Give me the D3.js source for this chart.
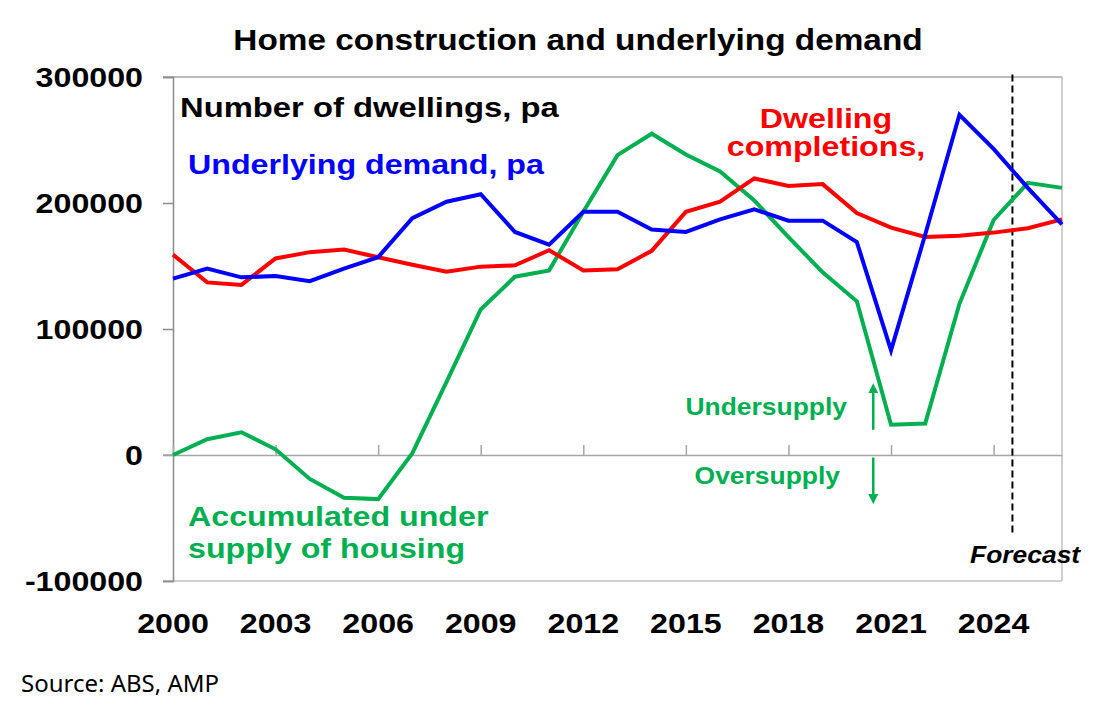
<!DOCTYPE html>
<html>
<head>
<meta charset="utf-8">
<script src="https://cdn.jsdelivr.net/npm/d3@7"></script>
<style>
  body { margin: 0; background: #fff; }
  svg { display: block; }
</style>
</head>
<body>
<div id="chart"></div>
<script>
// chart data
var years = [2000, 2001, 2002, 2003, 2004, 2005, 2006, 2007, 2008, 2009, 2010, 2011, 2012, 2013,
             2014, 2015, 2016, 2017, 2018, 2019, 2020, 2021, 2022, 2023, 2024, 2025, 2026];
var demand = [140000, 148000, 141000, 142000, 138000, 148000, 157000, 188000, 201000, 207000, 177000, 167000, 193000, 193000,
              179000, 177000, 187000, 195000, 186000, 186000, 169000, 83000, 175000, 270000, 243000, 212000, 183000];
var completions = [159000, 137000, 135000, 156000, 161000, 163000, 157000, 151000, 145500, 149500, 150500, 162500, 146500, 147500,
                   162000, 193000, 201000, 219500, 213500, 215000, 192000, 180500, 173000, 174000, 176500, 180000, 187000];
var accumulated = [0, 12500, 18000, 4500, -19000, -34000, -35000, 1500, 58000, 115500, 141500, 146500, 193000, 238000,
                   255000, 238500, 225000, 202000, 173000, 145000, 122000, 24000, 25000, 120000, 186500, 216000, 212000];
var yTicks = [-100000, 0, 100000, 200000, 300000];
var xTicks = [2000, 2003, 2006, 2009, 2012, 2015, 2018, 2021, 2024];
var forecastYear = 2024.55;

var W = 1120, H = 713;
var SX = 1.15; // horizontal stretch of the source picture's lettering
var font = "'Liberation Sans', Arial, sans-serif";

var svg = d3.select("#chart").append("svg")
    .attr("width", W)
    .attr("height", H);

var x = d3.scaleLinear().domain([2000, 2026]).range([173, 1062]);
var y = d3.scaleLinear().domain([-100000, 300000]).range([581, 77]);

function label(px, py, str, size, color, anchor, extra) {
  var t = svg.append("text")
      .attr("transform", "translate(" + px + "," + py + ") scale(" + SX + ",1)")
      .attr("text-anchor", anchor || "start")
      .style("font-family", font)
      .style("font-weight", "bold")
      .style("font-size", size + "px")
      .style("fill", color)
      .text(str);
  if (extra) extra(t);
  return t;
}

// frame
var frame = svg.append("g").attr("stroke", "#a6a6a6").attr("stroke-width", 1.5).attr("fill", "none");
frame.append("line").attr("x1", 163).attr("x2", x(2026)).attr("y1", y(300000)).attr("y2", y(300000));
frame.append("line").attr("x1", 163).attr("x2", x(2026)).attr("y1", y(-100000)).attr("y2", y(-100000)).attr("stroke", "#c0c0c0");
frame.append("line").attr("x1", x(2026)).attr("x2", x(2026)).attr("y1", y(300000)).attr("y2", y(-100000)).attr("stroke", "#c0c0c0");

// y axis
var yAxis = svg.append("g")
    .attr("transform", "translate(" + x(2000) + ",0)")
    .call(d3.axisLeft(y).tickValues(yTicks).tickSize(10).tickFormat(""));
yAxis.select(".domain").attr("stroke", "#8c8c8c").attr("stroke-width", 1.5);
yAxis.selectAll(".tick line").attr("stroke", "#8c8c8c").attr("stroke-width", 1.5);

yTicks.forEach(function(v) {
  label(143, y(v) + 10, String(v), 28, "#000", "end");
});

// zero line with year ticks
var xAxis = svg.append("g")
    .attr("transform", "translate(0," + y(0) + ")")
    .call(d3.axisTop(x).tickValues(xTicks).tickSize(10).tickSizeOuter(0).tickFormat(""));
xAxis.select(".domain").attr("stroke", "#a6a6a6").attr("stroke-width", 1.5);
xAxis.selectAll(".tick line").attr("stroke", "#a6a6a6").attr("stroke-width", 1.5);
svg.append("line").attr("x1", 163).attr("x2", x(2000)).attr("y1", y(0)).attr("y2", y(0))
    .attr("stroke", "#a6a6a6").attr("stroke-width", 1.5);

xTicks.forEach(function(v) {
  label(x(v), 633, String(v), 28, "#000", "middle");
});

// forecast divider
svg.append("line")
    .attr("x1", x(forecastYear)).attr("x2", x(forecastYear))
    .attr("y1", y(302000)).attr("y2", 533)
    .attr("stroke", "#000").attr("stroke-width", 2)
    .attr("stroke-dasharray", "7,4");

// series lines
var line = d3.line()
    .x(function(d, i) { return x(years[i]); })
    .y(function(d) { return y(d); });

[[accumulated, "#00b050"], [completions, "#ff0000"], [demand, "#0000ff"]].forEach(function(s) {
  svg.append("path")
      .datum(s[0])
      .attr("d", line)
      .attr("fill", "none")
      .attr("stroke", s[1])
      .attr("stroke-width", 4)
      .attr("stroke-linejoin", "miter");
});

// undersupply / oversupply arrows
svg.append("defs").append("marker")
    .attr("id", "head")
    .attr("viewBox", "0 0 10 10")
    .attr("refX", 5).attr("refY", 5)
    .attr("markerWidth", 4).attr("markerHeight", 4)
    .attr("markerUnits", "strokeWidth")
    .attr("orient", "auto")
  .append("path")
    .attr("d", "M0,0 L10,5 L0,10 z")
    .attr("fill", "#00b050");

var ax = x(2020.48);
svg.append("line").attr("x1", ax).attr("x2", ax).attr("y1", y(20000)).attr("y2", y(53000))
    .attr("stroke", "#00b050").attr("stroke-width", 2.5).attr("marker-end", "url(#head)");
svg.append("line").attr("x1", ax).attr("x2", ax).attr("y1", y(-2000)).attr("y2", y(-35000))
    .attr("stroke", "#00b050").attr("stroke-width", 2.5).attr("marker-end", "url(#head)");

// annotations
label(578, 50, "Home construction and underlying demand", 29, "#000", "middle");
label(180, 117, "Number of dwellings, pa", 28.5, "#000", "start");
label(188, 174, "Underlying demand, pa", 28, "#0000ff", "start");
label(826, 128, "Dwelling", 28, "#ff0000", "middle");
label(826, 156, "completions,", 28, "#ff0000", "middle");
label(847, 415, "Undersupply", 23, "#00b050", "end");
label(840, 484, "Oversupply", 23, "#00b050", "end");
label(188, 526, "Accumulated under", 28, "#00b050", "start");
label(188, 558, "supply of housing", 28, "#00b050", "start");
label(970, 563, "Forecast", 23, "#000", "start", function(t) { t.style("font-style", "italic"); });

svg.append("text")
    .attr("x", 21).attr("y", 692)
    .style("font-family", "'Noto Sans', 'Open Sans', sans-serif")
    .style("font-size", "24px")
    .style("fill", "#000")
    .text("Source: ABS, AMP");
</script>
</body>
</html>
